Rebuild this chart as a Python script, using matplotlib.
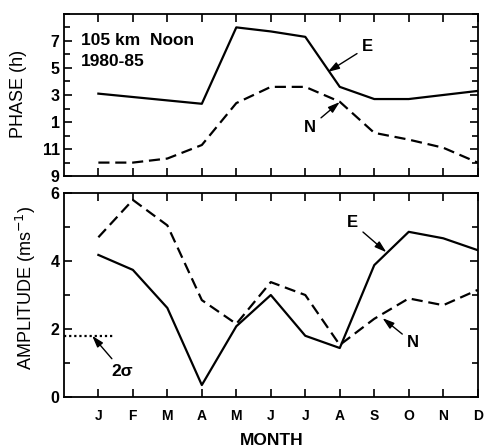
import numpy as np
import matplotlib
matplotlib.use('Agg')
import matplotlib.pyplot as plt

plt.rcParams['font.family'] = ['Liberation Sans', 'DejaVu Sans']

# month axis, J..D placed at 1..12
months = ['J', 'F', 'M', 'A', 'M', 'J', 'J', 'A', 'S', 'O', 'N', 'D']
month_pos = np.arange(1, 13)

# phase (h, 12 h cycle)
phase_E = [3.1, 2.85, 2.6, 2.35, 8.0, 7.7, 7.3, 3.6, 2.7, 2.7, 3.0, 3.3]
phase_N = [10.0, 10.0, 10.3, 11.3, 2.4, 3.6, 3.6, 2.5, 0.2, 11.7, 11.1, 10.0]

# amplitude (m/s)
amp_E = [4.18, 3.74, 2.62, 0.35, 2.08, 3.0, 1.8, 1.44, 3.88, 4.86, 4.67, 4.32]
amp_N = [4.7, 5.8, 5.05, 2.85, 2.15, 3.38, 3.0, 1.53, 2.3, 2.9, 2.7, 3.15]

two_sigma = 1.8
phase_ticks = [9, 11, 13, 15, 17, 19]
phase_labels = ['9', '11', '1', '3', '5', '7']


def unwrap(h):
    # phases below 9 h are drawn one cycle up so the axis runs 9 -> 9
    h = np.asarray(h, dtype=float)
    return np.where(h < 9, h + 12, h)


fig = plt.figure(figsize=(4.84, 4.47), dpi=100)
ax1 = fig.add_axes([0.132, 0.606, 0.855, 0.363])
ax2 = fig.add_axes([0.132, 0.112, 0.855, 0.456])

lw = 1.6
dash = (0, (5, 2.6))
bold = dict(fontweight='bold', ha='center', va='center')

########## top panel: phase ##########
ax1.plot(month_pos, unwrap(phase_E), color='k', lw=lw)
ax1.plot(month_pos, unwrap(phase_N), color='k', lw=lw, linestyle=dash)
ax1.set_xlim(0, 12)
ax1.set_ylim(9, 21)
ax1.set_yticks(phase_ticks)
ax1.set_yticklabels(phase_labels)
ax1.set_yticks(np.arange(9, 22), minor=True)
ax1.set_xticks(month_pos)
ax1.set_xticklabels([])
ax1.text(0.5, 19.0, '105 km  Noon', fontsize=12.5, fontweight='bold', va='center')
ax1.text(0.5, 17.5, '1980-85', fontsize=12.5, fontweight='bold', va='center')

arrow = dict(arrowstyle='-|>,head_length=0.7,head_width=0.22', color='k', lw=1.0,
             mutation_scale=10, shrinkA=2, shrinkB=0)
ax1.annotate('E', xy=(7.65, 16.7), xytext=(8.81, 18.56), fontsize=12, arrowprops=arrow, **bold)
ax1.annotate('N', xy=(8.0, 14.48), xytext=(7.14, 12.63), fontsize=12, arrowprops=arrow, **bold)

########## bottom panel: amplitude ##########
ax2.plot(month_pos, amp_E, color='k', lw=lw)
ax2.plot(month_pos, amp_N, color='k', lw=lw, linestyle=dash)
ax2.plot([0, 1.47], [two_sigma, two_sigma], color='k', lw=1.6, linestyle=(0, (1, 1.3)))
ax2.set_xlim(0, 12)
ax2.set_ylim(0, 6)
ax2.set_yticks([0, 2, 4, 6])
ax2.set_yticks(np.arange(0, 7), minor=True)
ax2.set_xticks(month_pos)
ax2.set_xticklabels(months)

ax2.annotate('E', xy=(9.35, 4.26), xytext=(8.37, 5.12), fontsize=12, arrowprops=arrow, **bold)
ax2.annotate('N', xy=(9.24, 2.32), xytext=(10.13, 1.59), fontsize=12, arrowprops=arrow, **bold)
ax2.annotate('2\u03c3', xy=(0.82, 1.8), xytext=(1.7, 0.76), fontsize=12.5, arrowprops=arrow, **bold)

for ax in (ax1, ax2):
    for s in ax.spines.values():
        s.set_linewidth(1.3)
    ax.tick_params(which='both', direction='in', top=True, right=True, width=1.2)
    ax.tick_params(which='major', length=6)
    ax.tick_params(which='minor', length=4)
    ax.tick_params(axis='y', which='both', pad=3, labelsize=11.5)
    ax.tick_params(axis='x', which='major', pad=9, labelsize=10)
    for lab in ax.get_xticklabels() + ax.get_yticklabels():
        lab.set_fontweight('bold')

fig.text(0.039, 0.79, 'PHASE (h)', rotation=90, ha='center', va='center', fontsize=13)
fig.text(0.053, 0.355, 'AMPLITUDE (ms$^{-1}$)', rotation=90, ha='center', va='center', fontsize=13)
fig.text(0.562, 0.014, 'MONTH', ha='center', va='center', fontsize=12.5, fontweight='bold')

fig.savefig('out.png', dpi=100)
